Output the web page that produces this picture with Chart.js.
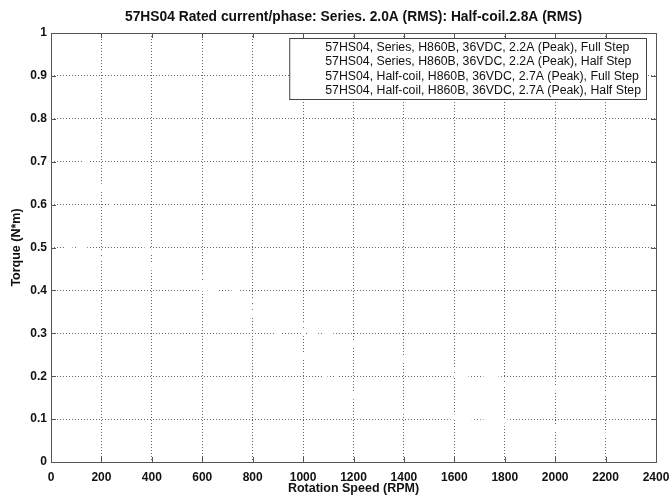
<!DOCTYPE html>
<html>
<head>
<meta charset="utf-8">
<script src="https://cdn.jsdelivr.net/npm/chart.js@4/dist/chart.umd.min.js"></script>
<style>
  html, body { margin: 0; padding: 0; background: #fff; }
  #wrap { width: 670px; height: 496px; }
</style>
</head>
<body>
<div id="wrap"><canvas id="torque"></canvas></div>
<script>
// curves are drawn in white in the original, only visible where they cut the grid
const seriesLabels = [
  '57HS04, Series, H860B, 36VDC, 2.2A (Peak), Full Step',
  '57HS04, Series, H860B, 36VDC, 2.2A (Peak), Half Step',
  '57HS04, Half-coil, H860B, 36VDC, 2.7A (Peak), Full Step',
  '57HS04, Half-coil, H860B, 36VDC, 2.7A (Peak), Half Step'
];
const seriesFullRpm = [0, 140, 240, 380, 650, 900, 1200, 1620, 2000, 2400];
const seriesFullTorque = [0.78, 0.70, 0.60, 0.50, 0.40, 0.30, 0.15, 0.10, 0.075, 0.05];
const seriesHalfRpm = [0, 150, 250, 400, 729, 1000, 1200, 1750, 2400];
const seriesHalfTorque = [0.77, 0.69, 0.59, 0.49, 0.40, 0.30, 0.16, 0.10, 0.05];
const halfCoilFullRpm = [0, 120, 400, 800, 1200, 1620, 2000, 2400];
const halfCoilFullTorque = [0.53, 0.50, 0.46, 0.36, 0.28, 0.20, 0.17, 0.145];
const halfCoilHalfRpm = [0, 110, 400, 800, 1200, 1740, 2400];
const halfCoilHalfTorque = [0.52, 0.49, 0.45, 0.35, 0.27, 0.20, 0.14];

const titleText = '57HS04 Rated current/phase: Series. 2.0A (RMS): Half-coil.2.8A (RMS)';
const xTitle = 'Rotation Speed (RPM)';
const yTitle = 'Torque (N*m)';

const FONT = '"Liberation Sans", Arial, sans-serif';

const toPoints = (xs, ys) => xs.map((x, i) => ({ x: x, y: ys[i] }));

const curves = [
  toPoints(seriesFullRpm, seriesFullTorque),
  toPoints(seriesHalfRpm, seriesHalfTorque),
  toPoints(halfCoilFullRpm, halfCoilFullTorque),
  toPoints(halfCoilHalfRpm, halfCoilHalfTorque)
];

const boxAndTicks = {
  id: 'boxAndTicks',
  afterDatasetsDraw(chart) {
    const { ctx, chartArea: a, scales } = chart;
    ctx.save();
    ctx.strokeStyle = '#555';
    ctx.lineWidth = 1;
    ctx.strokeRect(Math.round(a.left) + 0.5, Math.round(a.top) + 0.5,
      Math.round(a.right - a.left), Math.round(a.bottom - a.top));
    ctx.beginPath();
    scales.x.ticks.forEach(t => {
      const px = Math.round(scales.x.getPixelForValue(t.value)) + 0.5;
      ctx.moveTo(px, a.bottom); ctx.lineTo(px, a.bottom - 5);
      ctx.moveTo(px, a.top); ctx.lineTo(px, a.top + 5);
    });
    scales.y.ticks.forEach(t => {
      const py = Math.round(scales.y.getPixelForValue(t.value)) + 0.5;
      ctx.moveTo(a.left, py); ctx.lineTo(a.left + 5, py);
      ctx.moveTo(a.right, py); ctx.lineTo(a.right - 5, py);
    });
    ctx.stroke();

    // title centred over the plot area, like the original
    ctx.fillStyle = '#111';
    ctx.font = 'bold 13.8px ' + FONT;
    ctx.textAlign = 'center';
    ctx.textBaseline = 'middle';
    ctx.fillText(titleText, (a.left + a.right) / 2, 17);

    // legend box, top right
    const labels = chart.data.datasets.map(d => d.label);
    ctx.textAlign = 'left';
    ctx.font = '12.3px ' + FONT;
    const textW = Math.max(...labels.map(l => ctx.measureText(l).width));
    const rowH = 14.5;
    const bx1 = Math.round(a.right) - 10;
    const tx = bx1 - 5 - textW;
    const bx0 = tx - 36;
    const by0 = Math.round(a.top) + 5;
    const by1 = by0 + 3 + rowH * labels.length;
    ctx.fillStyle = '#fff';
    ctx.fillRect(bx0, by0, bx1 - bx0, by1 - by0);
    ctx.strokeStyle = '#444';
    ctx.lineWidth = 1;
    ctx.strokeRect(bx0 + 0.5, by0 + 0.5, bx1 - bx0, by1 - by0);
    labels.forEach((l, i) => {
      const y = by0 + 2 + rowH * (i + 0.5);
      ctx.strokeStyle = chart.data.datasets[i].borderColor;
      ctx.lineWidth = 3;
      ctx.beginPath(); ctx.moveTo(bx0 + 6, y); ctx.lineTo(tx - 6, y); ctx.stroke();
      ctx.fillStyle = '#111';
      ctx.fillText(l, tx, y);
    });
    ctx.restore();
  }
};

new Chart(document.getElementById('torque'), {
  type: 'line',
  data: {
    datasets: curves.map((pts, i) => ({
      label: seriesLabels[i],
      data: pts,
      borderColor: '#ffffff',
      borderWidth: 3,
      pointRadius: 0,
      cubicInterpolationMode: 'monotone',
      fill: false
    }))
  },
  options: {
    responsive: true,
    maintainAspectRatio: false,
    animation: false,
    layout: { padding: { left: 0, right: 0, top: 33, bottom: 0 } },
    plugins: {
      legend: { display: false },
      tooltip: { enabled: false },
      title: { display: false }
    },
    scales: {
      x: {
        type: 'linear',
        min: 0, max: 2400,
        afterFit: s => { s.height = 34; s.paddingRight = 14; },
        ticks: {
          stepSize: 200, autoSkip: false, maxRotation: 0, padding: 8,
          color: '#111',
          callback: v => String(v),
          font: { family: FONT, size: 12, weight: 'bold' }
        },
        grid: { color: '#666', lineWidth: 1, drawTicks: false, tickLength: 0 },
        border: { display: false, dash: [1, 2] },
        title: {
          display: true, text: xTitle, color: '#111',
          font: { family: FONT, size: 12.5, weight: 'bold' },
          padding: { top: 0, bottom: 0 }
        }
      },
      y: {
        type: 'linear',
        min: 0, max: 1,
        afterFit: s => { s.width = 51; s.paddingTop = 0; },
        ticks: {
          stepSize: 0.1, autoSkip: false, padding: 4,
          color: '#111',
          callback: v => String(Math.round(v * 10) / 10),
          font: { family: FONT, size: 12, weight: 'bold' }
        },
        grid: { color: '#666', lineWidth: 1, drawTicks: false, tickLength: 0 },
        border: { display: false, dash: [1, 2] },
        title: {
          display: true, text: yTitle, color: '#111',
          font: { family: FONT, size: 12.5, weight: 'bold' },
          padding: { top: 9, bottom: 0 }
        }
      }
    }
  },
  plugins: [boxAndTicks]
});
</script>
</body>
</html>
